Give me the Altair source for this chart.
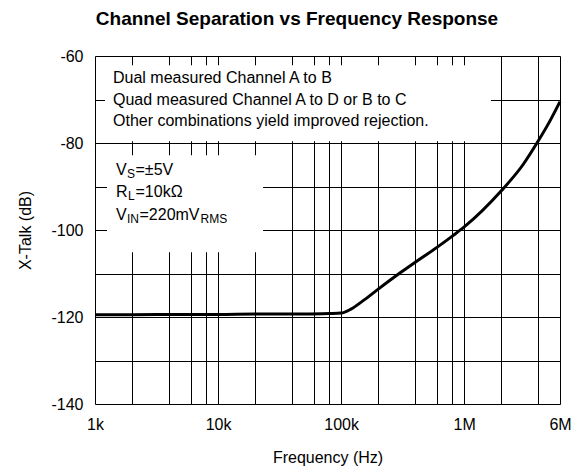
import altair as alt
import pandas as pd

# ---- data ----
freq_hz = [1e3, 2e3, 5e3, 1e4, 2e4, 5e4, 8e4, 1e5, 1.2e5, 1.5e5, 2e5, 3e5,
           4e5, 6e5, 8e5, 1e6, 2e6, 3e6, 4e6, 5e6, 6e6]
xtalk_db = [-119.5, -119.5, -119.4, -119.4, -119.3, -119.3, -119.2, -119.1,
            -118.2, -116.3, -113.6, -109.9, -107.4, -104.0, -101.4, -99.3,
            -91.0, -85.0, -79.5, -74.8, -70.5]

x_grid = [1e3, 2e3, 4e3, 6e3, 8e3, 1e4, 2e4, 4e4, 6e4, 8e4, 1e5, 2e5, 4e5,
          6e5, 8e5, 1e6, 2e6, 4e6, 6e6]
x_labels = {1e3: "1k", 1e4: "10k", 1e5: "100k", 1e6: "1M", 6e6: "6M"}
y_grid = [-140, -130, -120, -110, -100, -90, -80, -70, -60]

title_text = "Channel Separation vs Frequency Response"
note_lines = ["Dual measured Channel A to B",
              "Quad measured Channel A to D or B to C",
              "Other combinations yield improved rejection."]
cond_parts = ["V", "S", "=±5V", "R", "L", "=10kΩ", "V", "IN", "=220mV", "RMS"]

# ---- layout (pixels inside plot area) ----
W, H = 465, 348
FONT = "Liberation Sans, Arial, sans-serif"
note_x = [18, 18, 18]
note_y = [27, 49, 70]
cond_x = [21, 32, 40.5, 21, 33, 40.5, 21, 32, 44.5, 105.5]
cond_y = [119, 122, 119, 141, 144, 141, 164, 167, 164, 167]
cond_fs = [16, 12, 16, 16, 12, 16, 16, 12, 16, 12]

curve = pd.DataFrame({"f": freq_hz, "db": xtalk_db})
boxes = pd.DataFrame({"x1": [1206, 1252], "x2": [1.648e6, 23200],
                      "y1": [-62.1, -82.8], "y2": [-79.6, -105.1]})
texts = pd.DataFrame({
    "t": [title_text] + note_lines + cond_parts,
    "px": [202] + note_x + cond_x,
    "py": [-31] + note_y + cond_y,
    "fs": [19] + [16, 16, 16] + cond_fs,
    "al": ["center"] + ["left"] * (3 + len(cond_parts)),
    "fw": ["bold"] + ["normal"] * (3 + len(cond_parts)),
})

label_expr = " : ".join(
    f"datum.value == {int(k)} ? '{v}'" for k, v in x_labels.items()) + " : ''"

xscale = alt.Scale(type="log", domain=[1e3, 6e6], nice=False)
yscale = alt.Scale(domain=[-140, -60], nice=False)

common = dict(grid=True, gridColor="black", gridOpacity=1, gridWidth=1,
              ticks=False, tickSize=0, domain=False, labelPadding=12,
              labelFont=FONT, labelFontSize=16, labelColor="black",
              titleFont=FONT, titleFontSize=16, titleFontWeight="normal",
              titleColor="black", labelOverlap=False)
xaxis = alt.Axis(values=x_grid, labelExpr=label_expr, title="Frequency (Hz)",
                 titlePadding=17, labelFlush=False, **common)
yaxis = alt.Axis(values=y_grid,
                 labelExpr="datum.value % 20 == 0 ? '' + datum.value : ''",
                 title="X-Talk (dB)", titlePadding=17, **common)

rects = alt.Chart(boxes).mark_rect(color="white", opacity=1).encode(
    x=alt.X("x1:Q", scale=xscale, axis=xaxis),
    x2="x2:Q",
    y=alt.Y("y1:Q", scale=yscale, axis=yaxis),
    y2="y2:Q",
)

line = alt.Chart(curve).mark_line(color="black", strokeWidth=3,
                                  interpolate="monotone").encode(
    x=alt.X("f:Q", scale=xscale),
    y=alt.Y("db:Q", scale=yscale),
)


def text_layer(align, weight):
    return alt.Chart(texts).transform_filter(
        (alt.datum.al == align) & (alt.datum.fw == weight)
    ).mark_text(align=align, baseline="alphabetic", font=FONT,
                fontWeight=weight, color="black").encode(
        x=alt.X("px:Q", scale=None),
        y=alt.Y("py:Q", scale=None),
        text="t:N",
        size=alt.Size("fs:Q", scale=None, legend=None),
    )


chart = alt.layer(rects, line, text_layer("left", "normal"),
                  text_layer("center", "bold")).properties(
    width=W, height=H,
    autosize=alt.AutoSizeParams(type="none"),
    padding={"left": 87, "top": 48, "right": 14, "bottom": 64},
).configure_view(stroke="black", strokeWidth=1).configure(background="white")

chart.save("out.html", embed_options={"renderer": "svg", "actions": False})
